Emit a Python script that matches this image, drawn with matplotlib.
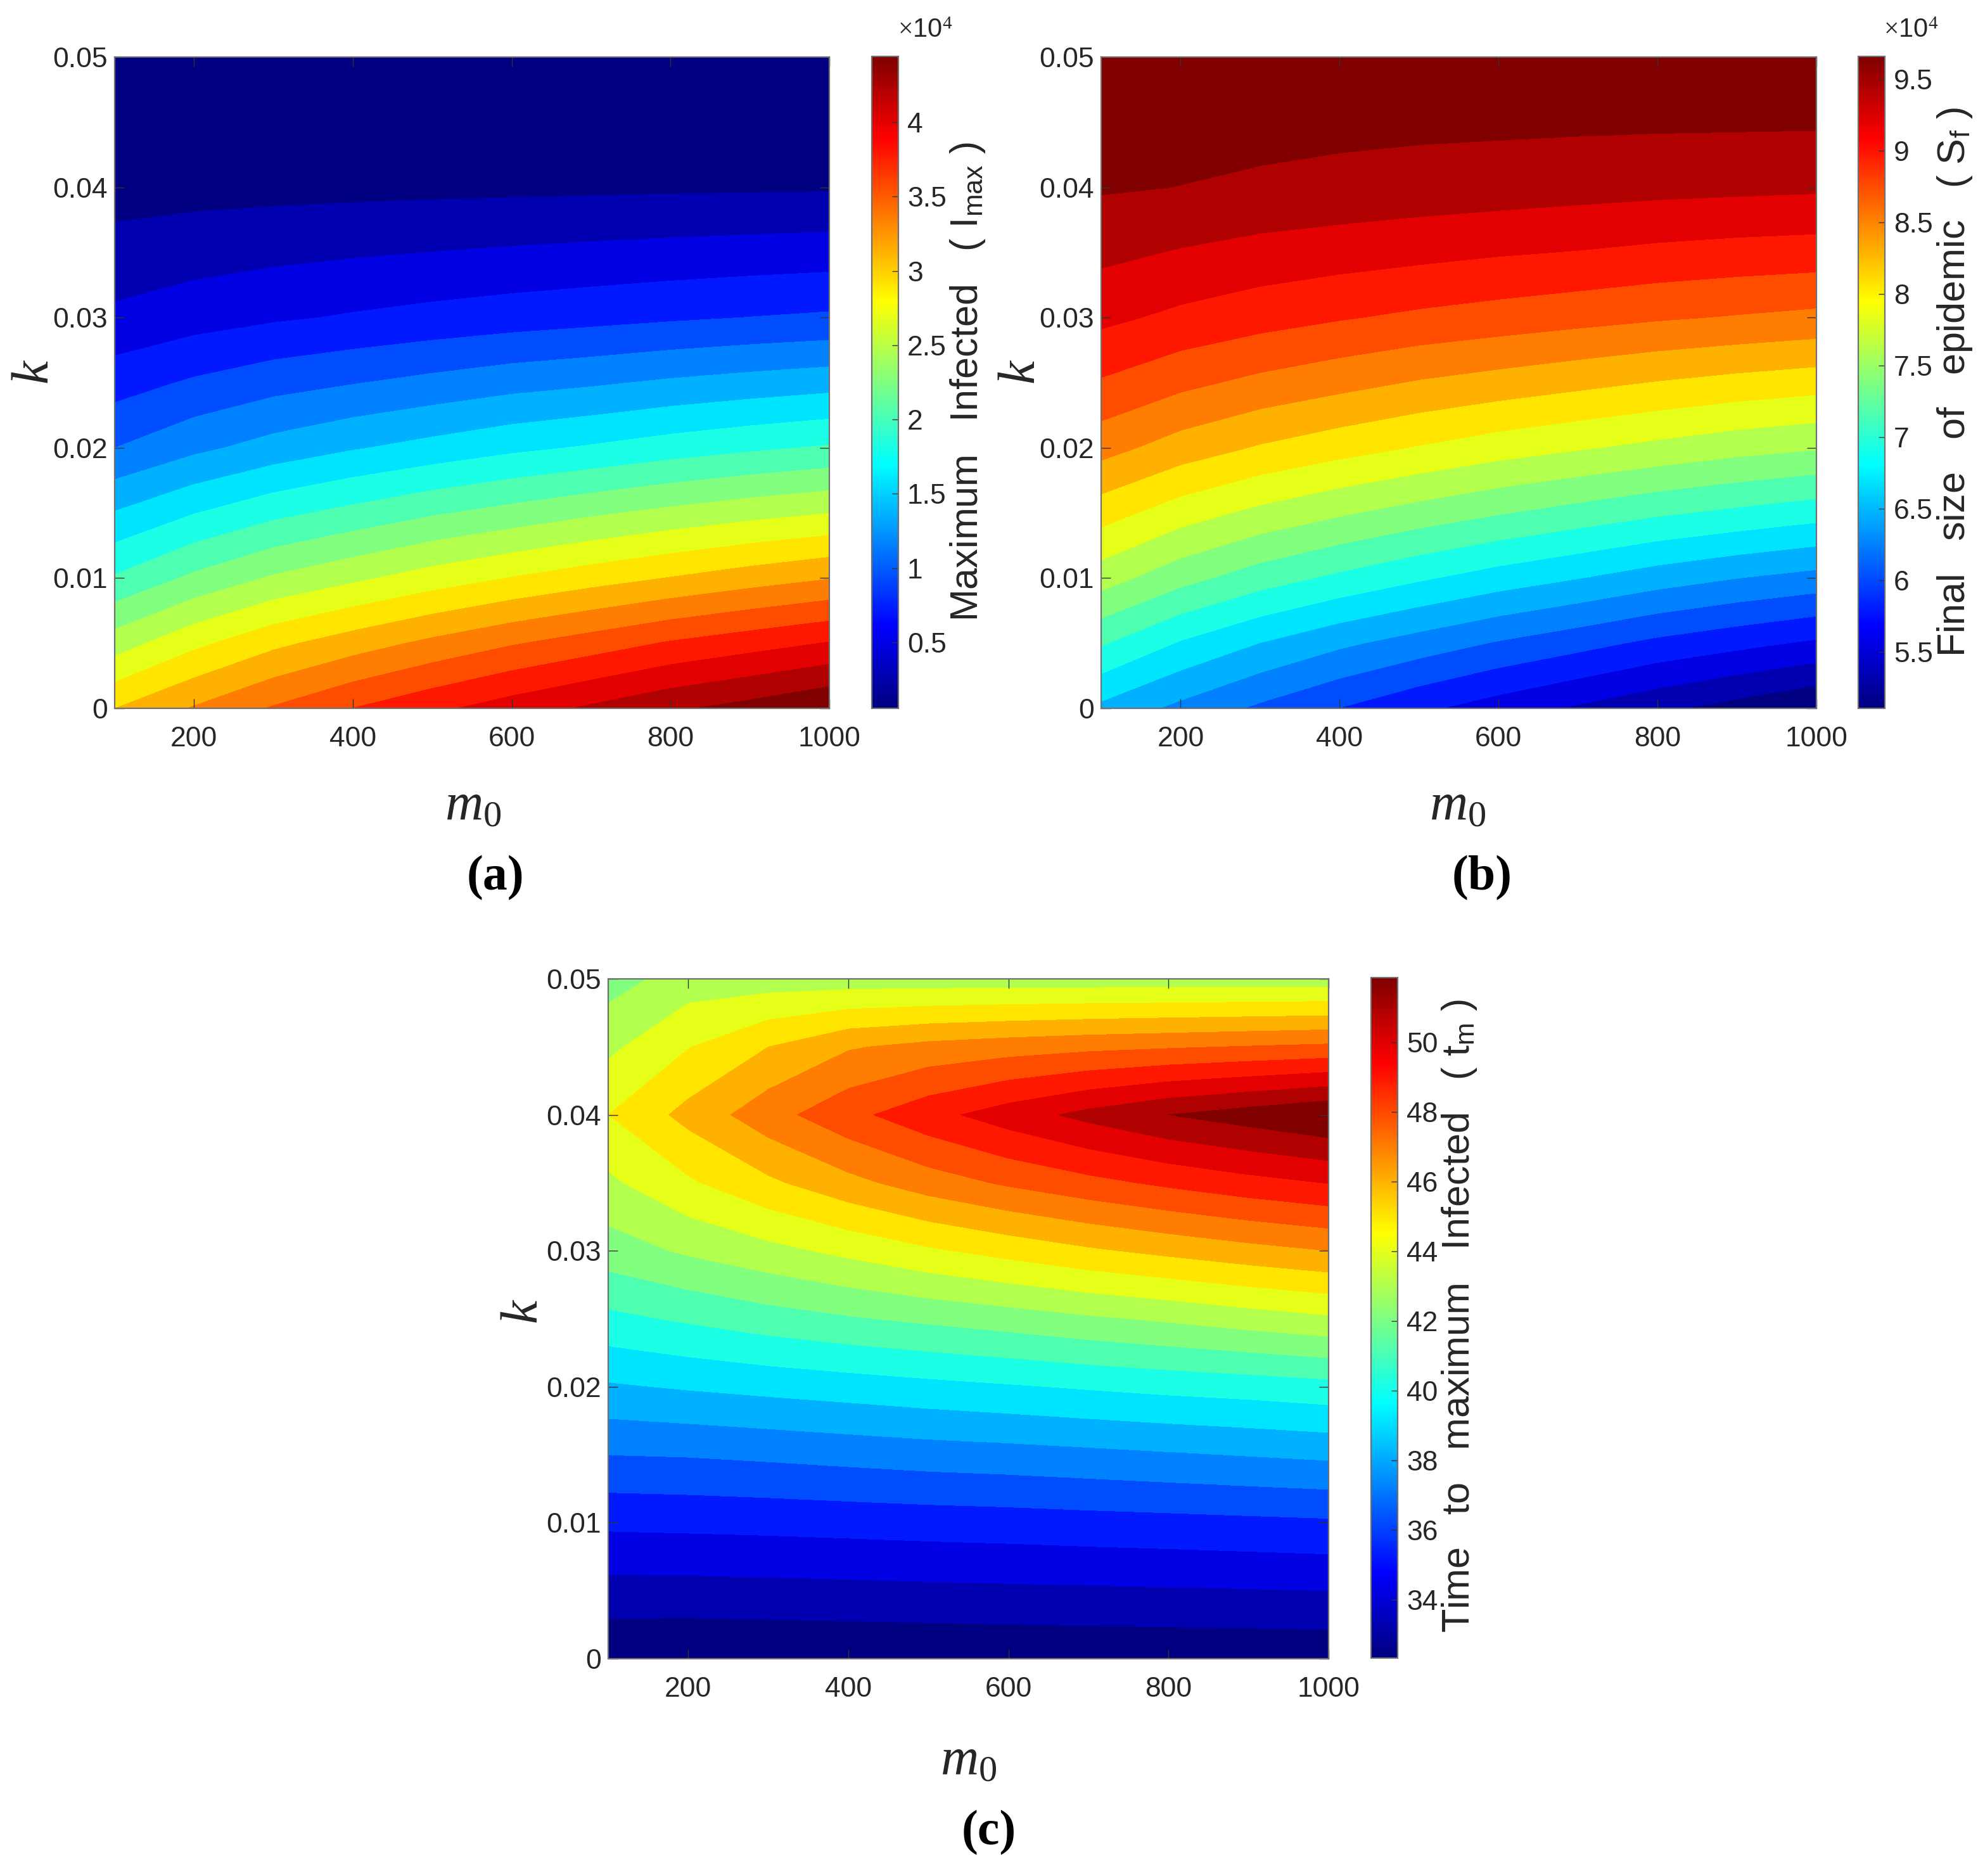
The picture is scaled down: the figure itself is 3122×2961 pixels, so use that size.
#!/usr/bin/env python3
"""Contour maps of epidemic measures against m0 and k"""
import matplotlib
matplotlib.use("Agg")
import matplotlib.pyplot as plt
from matplotlib.cm import ScalarMappable
from matplotlib.colors import LinearSegmentedColormap, Normalize
import numpy as np

# ── Data ─────────────────────────────────────────────────────────────────────
m0_values = [100, 200, 300, 400, 500, 600, 700, 800, 900, 1000]
k_values = [0, 0.005, 0.01, 0.015, 0.02, 0.025, 0.03, 0.035, 0.04, 0.045, 0.05]

# rows follow k_values, columns follow m0_values (units of 1e4)
i_max = [
    [2.98, 3.21, 3.42, 3.61, 3.77, 3.92, 4.06, 4.20, 4.31, 4.44],
    [2.46, 2.72, 2.93, 3.09, 3.24, 3.38, 3.50, 3.63, 3.73, 3.83],
    [1.96, 2.19, 2.38, 2.52, 2.66, 2.78, 2.89, 2.99, 3.09, 3.18],
    [1.53, 1.72, 1.88, 2.00, 2.12, 2.22, 2.32, 2.41, 2.49, 2.56],
    [1.10, 1.26, 1.39, 1.50, 1.59, 1.68, 1.75, 1.83, 1.90, 1.96],
    [0.80, 0.92, 1.02, 1.09, 1.16, 1.23, 1.28, 1.34, 1.39, 1.435],
    [0.516, 0.593, 0.654, 0.703, 0.748, 0.789, 0.825, 0.862, 0.895, 0.923],
    [0.340, 0.385, 0.421, 0.450, 0.476, 0.500, 0.522, 0.543, 0.562, 0.579],
    [0.179, 0.192, 0.200, 0.208, 0.215, 0.221, 0.227, 0.233, 0.238, 0.242],
    [0.108, 0.115, 0.120, 0.122, 0.125, 0.127, 0.130, 0.132, 0.134, 0.135],
    [0.056, 0.058, 0.060, 0.061, 0.062, 0.063, 0.064, 0.065, 0.066, 0.067],
]

s_final = [
    [6.57, 6.35, 6.15, 5.97, 5.80, 5.65, 5.51, 5.37, 5.24, 5.11],
    [7.08, 6.82, 6.62, 6.45, 6.31, 6.17, 6.05, 5.92, 5.82, 5.72],
    [7.59, 7.35, 7.16, 7.01, 6.87, 6.74, 6.63, 6.51, 6.41, 6.33],
    [8.02, 7.81, 7.65, 7.52, 7.40, 7.29, 7.19, 7.09, 7.01, 6.93],
    [8.44, 8.26, 8.12, 8.01, 7.91, 7.81, 7.73, 7.65, 7.57, 7.51],
    [8.77, 8.63, 8.52, 8.43, 8.34, 8.27, 8.20, 8.13, 8.07, 8.02],
    [9.06, 8.96, 8.88, 8.81, 8.75, 8.70, 8.65, 8.60, 8.56, 8.52],
    [9.28, 9.21, 9.15, 9.11, 9.07, 9.03, 9.00, 8.96, 8.93, 8.91],
    [9.465, 9.44, 9.41, 9.38, 9.355, 9.335, 9.31, 9.29, 9.275, 9.26],
    [9.56, 9.53, 9.51, 9.50, 9.49, 9.485, 9.48, 9.475, 9.473, 9.47],
    [9.66, 9.63, 9.61, 9.60, 9.59, 9.58, 9.575, 9.57, 9.565, 9.56],
]

t_max = [
    [32.40, 32.38, 32.40, 32.42, 32.45, 32.48, 32.50, 32.52, 32.54, 32.56],
    [33.85, 33.85, 33.89, 33.93, 33.98, 34.02, 34.06, 34.10, 34.14, 34.19],
    [35.30, 35.35, 35.40, 35.47, 35.54, 35.60, 35.68, 35.75, 35.83, 35.91],
    [36.98, 37.04, 37.16, 37.30, 37.44, 37.54, 37.67, 37.81, 37.95, 38.09],
    [38.72, 38.93, 39.12, 39.30, 39.49, 39.67, 39.86, 40.04, 40.18, 40.37],
    [40.46, 40.83, 41.21, 41.53, 41.81, 42.09, 42.41, 42.69, 43.02, 43.33],
    [42.12, 42.69, 43.20, 43.72, 44.27, 44.74, 45.20, 45.58, 45.95, 46.27],
    [43.30, 44.27, 45.16, 45.99, 46.74, 47.34, 47.85, 48.32, 48.74, 49.09],
    [44.41, 45.64, 46.83, 47.85, 48.74, 49.53, 50.27, 50.92, 51.38, 51.85],
    [43.27, 44.37, 45.34, 46.18, 46.55, 46.78, 46.97, 47.11, 47.25, 47.39],
    [42.15, 42.99, 43.00, 42.99, 42.98, 42.97, 42.96, 42.95, 42.94, 42.93],
]

x_ticks = [200, 400, 600, 800, 1000]
y_ticks = [0, 0.01, 0.02, 0.03, 0.04, 0.05]
y_ticklabels = ["0", "0.01", "0.02", "0.03", "0.04", "0.05"]

cbar_ticks_a = [0.5, 1, 1.5, 2, 2.5, 3, 3.5, 4]
cbar_labels_a = ["0.5", "1", "1.5", "2", "2.5", "3", "3.5", "4"]
cbar_ticks_b = [5.5, 6, 6.5, 7, 7.5, 8, 8.5, 9, 9.5]
cbar_labels_b = ["5.5", "6", "6.5", "7", "7.5", "8", "8.5", "9", "9.5"]
cbar_ticks_c = [34, 36, 38, 40, 42, 44, 46, 48, 50]
cbar_labels_c = ["34", "36", "38", "40", "42", "44", "46", "48", "50"]

# ── Figure setup ─────────────────────────────────────────────────────────────
W, H = 3122, 2961
DPI = 200
TICK_SIZE = 16

plt.rcParams["mathtext.fontset"] = "custom"
plt.rcParams["mathtext.rm"] = "Liberation Serif"
plt.rcParams["mathtext.it"] = "Liberation Serif:italic"
plt.rcParams["mathtext.sf"] = "Liberation Sans"
plt.rcParams["font.family"] = ["Liberation Sans", "DejaVu Sans"]

# same anchors as MATLAB's jet
jet = LinearSegmentedColormap("matlab_jet", {
    "red":   [(0, 0, 0), (0.375, 0, 0), (0.625, 1, 1), (0.875, 1, 1), (1, 0.5, 0.5)],
    "green": [(0, 0, 0), (0.125, 0, 0), (0.375, 1, 1), (0.625, 1, 1), (0.875, 0, 0), (1, 0, 0)],
    "blue":  [(0, 0.5, 0.5), (0.125, 1, 1), (0.375, 1, 1), (0.625, 0, 0), (1, 0, 0)],
}, N=256)
N_BANDS = 21
band_colors = [jet(i / (N_BANDS - 1)) for i in range(N_BANDS)]

fig = plt.figure(figsize=(W / DPI, H / DPI), dpi=DPI, facecolor="white")


def px_rect(x0, y0, x1, y1):
    # pixel box (top-left origin) to figure fractions
    return [x0 / W, 1 - y1 / H, (x1 - x0) / W, (y1 - y0) / H]


def px_text(x, y, s, **kw):
    fig.text(x / W, 1 - y / H, s, ha="center", va="center", **kw)


def panel(box, cbox, z, lo, hi, cticks, clabels, clabel, clabel_xy, tag, tag_xy, m_xy, k_xy):
    ax = fig.add_axes(px_rect(*box))
    levels = np.linspace(lo, hi, N_BANDS + 1)
    ax.contourf(m0_values, k_values, np.array(z), levels=levels, colors=band_colors)
    ax.set_xlim(100, 1000)
    ax.set_ylim(0, 0.05)
    ax.set_xticks(x_ticks)
    ax.set_yticks(y_ticks)
    ax.set_yticklabels(y_ticklabels)
    ax.tick_params(direction="in", length=5.5, width=0.5, color="#333333", top=True, right=True,
                   labelsize=TICK_SIZE, labelcolor="#262626")
    ax.tick_params(axis="x", pad=10)
    ax.tick_params(axis="y", pad=4)
    for sp in ax.spines.values():
        sp.set_color("#707070")
        sp.set_linewidth(0.8)

    cax = fig.add_axes(px_rect(*cbox))
    cb = fig.colorbar(ScalarMappable(Normalize(lo, hi), jet), cax=cax)
    cb.set_ticks(cticks)
    cb.set_ticklabels(clabels)
    cax.tick_params(direction="in", length=3.5, width=0.5, color="#333333", right=True,
                    labelsize=TICK_SIZE, labelcolor="#262626", pad=5)
    cb.outline.set_edgecolor("#707070")
    cb.outline.set_linewidth(0.8)

    px_text(*clabel_xy, clabel, rotation=90, fontsize=22, color="#262626")
    px_text(*m_xy, r"$\mathit{m}_{0}$", fontsize=30, color="#262626")
    px_text(*k_xy, r"$\mathit{k}$", rotation=90, fontsize=30, color="#262626")
    px_text(*tag_xy, tag, fontsize=28, fontweight="bold", family="Liberation Serif", color="black")
    return ax


panel((181, 90, 1309, 1118), (1376, 89, 1418, 1118), i_max, 0.056, 4.444,
      cbar_ticks_a, cbar_labels_a, r"Maximum   Infected   ( I$_{\mathsf{max}}$ )", (1528, 603),
      "(a)", (782, 1386), (747, 1270), (54, 587))
px_text(1460, 48, r"$\times$10$^{4}$", fontsize=15, color="#262626")

panel((1738, 90, 2867, 1118), (2933, 89, 2975, 1118), s_final, 5.107, 9.66,
      cbar_ticks_b, cbar_labels_b, r"Final   size   of   epidemic   ( S$_{\mathsf{f}}$ )", (3086, 603),
      "(b)", (2339, 1386), (2301, 1270), (1611, 587))
px_text(3016, 48, r"$\times$10$^{4}$", fontsize=15, color="#262626")

panel((960, 1545, 2097, 2618), (2164, 1543, 2206, 2617), t_max, 32.33, 51.85,
      cbar_ticks_c, cbar_labels_c, r"Time   to   maximum   Infected   ( t$_{\mathsf{m}}$ )", (2304, 2077),
      "(c)", (1561, 2893), (1529, 2777), (826, 2070))

fig.savefig("out.png", dpi=DPI, facecolor="white")
print("Saved: out.png")
